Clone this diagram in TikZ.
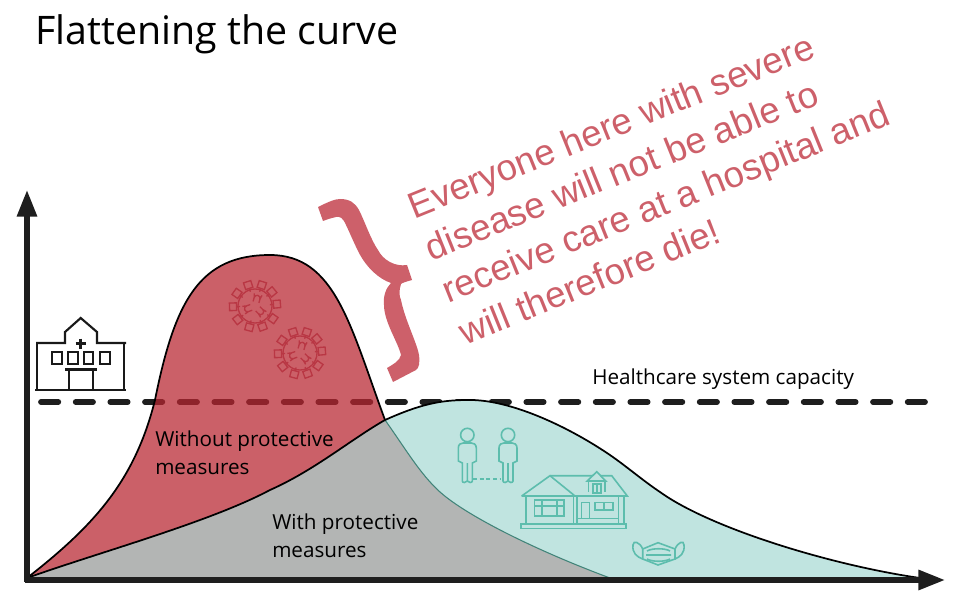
\documentclass[tikz,border=0pt]{standalone}
\usepackage{fontspec}
\setmainfont{Open Sans}
\newfontfamily\notefont{Liberation Sans}
\usetikzlibrary{arrows.meta}
\definecolor{redfill}{RGB}{184,37,48}
\definecolor{rednote}{RGB}{205,96,106}
\definecolor{virusred}{RGB}{185,55,68}
\definecolor{tealfill}{RGB}{192,228,224}
\definecolor{tealline}{RGB}{93,189,173}
\definecolor{grayfill}{RGB}{179,181,180}
\definecolor{axisblack}{RGB}{30,30,30}
\tikzset{
  axis/.style={line width=3.9pt,draw=axisblack,-{Triangle[length=20pt,width=14.5pt]}},
  label/.style={font=\fontsize{15.5}{20.3}\selectfont,align=left,text=black},
  outline/.style={line width=1.3pt,draw=black},
  icon/.style={line width=1.6pt,draw=black!90},
  tealicon/.style={line width=1.2pt,draw=tealline},
  pics/virus/.style={code={
    \draw[line width=1pt,draw=virusred] (0,0) circle (17);
    \foreach \a in {5,40,72,108,145,182,218,255,290,325}{
      \draw[line width=1pt,draw=virusred,rotate=\a] (15,0) -- (18.5,0) (18.5,-3.8) rectangle (25.5,3.8);
    }
    \foreach \a in {75,200,315}{
      \draw[line width=1pt,draw=virusred,rotate=\a] (4,-3) -- (8,-3) arc (-90:90:3) -- (4,3) (8,3) -- (12,4) (8,-3) -- (12,-4);
    }
  }}
}
\begin{document}
\begin{tikzpicture}[x=0.75pt,y=-0.75pt]
  \useasboundingbox (0,0) rectangle (970,598);
  % Curves
  \coordinate (origin) at (27,578);
  \coordinate (cross) at (385,420);
  \coordinate (ytip) at (27,190);
  \coordinate (xtip) at (945,580);
  \coordinate (capleft) at (41,402);
  \coordinate (capright) at (930,402);
  % Capacity line goes under the red area
  \draw[line width=4.3pt,draw=axisblack,line cap=round,dash pattern=on 13pt off 13pt] (capleft) -- (capright);
  \fill[tealfill] (cross) .. controls (425,402) and (445,400) .. (470,400)
    .. controls (510,400) and (565,425) .. (607,453)
    .. controls (625,465) and (642,480) .. (660,492)
    .. controls (710,528) and (830,565) .. (920,578) -- (610,578)
    .. controls (540,552) and (468,517) .. (440,492)
    .. controls (420,474) and (405,448) .. (cross) -- cycle;
  \fill[grayfill] (origin) .. controls (100,552) and (210,522) .. (270,490)
    .. controls (315,470) and (350,440) .. (cross)
    .. controls (405,448) and (420,474) .. (440,492)
    .. controls (468,517) and (540,552) .. (610,578) -- cycle;
  \fill[redfill,fill opacity=0.73] (origin) .. controls (95,525) and (135,480) .. (155,400)
    .. controls (175,300) and (200,255) .. (270,255)
    .. controls (335,255) and (350,325) .. (cross)
    .. controls (350,440) and (315,470) .. (270,490)
    .. controls (210,522) and (100,552) .. (origin) -- cycle;
  \draw[line width=0.8pt,draw=tealline!70!black] (cross) .. controls (405,448) and (420,474) .. (440,492)
    .. controls (468,517) and (540,552) .. (610,578);
  \draw[outline] (origin) .. controls (95,525) and (135,480) .. (155,400)
    .. controls (175,300) and (200,255) .. (270,255)
    .. controls (335,255) and (350,325) .. (cross);
  \draw[outline] (origin) .. controls (100,552) and (210,522) .. (270,490)
    .. controls (315,470) and (350,440) .. (cross)
    .. controls (425,402) and (445,400) .. (470,400)
    .. controls (510,400) and (565,425) .. (607,453)
    .. controls (625,465) and (642,480) .. (660,492)
    .. controls (710,528) and (830,565) .. (920,578);
  % Axes
  \draw[axis] (27,582) -- (ytip);
  \draw[axis] (25,580) -- (xtip);
  % Viruses
  \pic at (255,306) {virus};
  \pic at (300,353) {virus};
  % Hospital
  \draw[icon] (37.3,343) -- (37.3,390) -- (124,390) -- (124,343);
  \draw[icon] (36,343) -- (65,343) -- (65,332) -- (80.7,318) -- (97,332) -- (97,343) -- (126,343);
  \draw[icon] (35,390) -- (126,390);
  \foreach \wx in {52.3,68.3,84,100.3}{
    \draw[icon] (\wx,352.3) rectangle ++(9.4,11.7);
  }
  \draw[icon,line width=2.2pt] (65,369.3) -- (97,369.3);
  \draw[icon] (69,369.3) -- (69,390) (92.7,369.3) -- (92.7,390);
  \draw[icon,line width=2.4pt] (75.7,343.7) -- (85.7,343.7) (80.7,338.7) -- (80.7,348.7);
  % People
  \foreach \px in {467.3,508}{
    \begin{scope}[shift={(\px,0)}]
      \draw[tealicon] (0,435) circle (6.7);
      \draw[tealicon] (-5,481) -- (-5,463) -- (-9,461) -- (-9,448) .. controls (-9,444) and (-6,443) .. (-4,443)
        -- (4,443) .. controls (6,443) and (9,444) .. (9,448) -- (9,461) -- (5,463) -- (5,481)
        .. controls (5,483) and (1,483) .. (0,481) -- (0,463) -- (0,481)
        .. controls (-1,483) and (-5,483) .. (-5,481) -- cycle;
    \end{scope}
  }
  \draw[tealicon,dash pattern=on 3pt off 2pt] (473,479) -- (501,479);
  % House
  \draw[tealicon] (520.7,524) rectangle (626,528.3);
  \draw[tealicon] (521.7,496) -- (550,475.7) -- (575,496);
  \draw[tealicon] (550,475.7) -- (611.7,475.7) -- (627.3,496) -- (521.7,496);
  \draw[tealicon] (526,496) -- (526,524) (573.3,496) -- (573.3,524) (576.7,496) -- (576.7,524)
    (618.3,496) -- (618.3,524) (624,496) -- (624,524);
  \draw[tealicon] (534.3,500) rectangle (564,516) (541.7,500) -- (541.7,516) (556.7,500) -- (556.7,516) (534.3,506) -- (564,506);
  \draw[tealicon] (581.3,518) -- (581.3,502.3) -- (589.3,502.3) -- (589.3,518);
  \draw[tealicon] (595,502.3) rectangle (612.7,510) (604,502.3) -- (604,510);
  \draw[tealicon] (576.7,518.3) -- (618.3,518.3);
  \draw[tealicon,fill=tealfill] (587.3,481) -- (596.7,471.7) -- (605.7,481) -- cycle;
  \draw[tealicon] (588.3,481) -- (588.3,491.7) (605,481) -- (605,491.7);
  \draw[tealicon] (592.7,484) rectangle (601,492.7) (596.8,484) -- (596.8,492.7);
  % Mask
  \draw[tealicon] (642.7,549) -- (658,542.7) -- (675,549) -- (675,559) -- (658,565) -- (642.7,559) -- cycle;
  \draw[tealicon] (647,551) .. controls (652,548) and (665,548) .. (670,551)
    (646,555) -- (671,555) (647,559) .. controls (652,562) and (665,562) .. (670,559);
  \draw[tealicon] (642.7,549) .. controls (640,542) and (633,540) .. (633,545) .. controls (632,553) and (637,557) .. (642.7,559);
  \draw[tealicon] (675,549) .. controls (678,542) and (684,540) .. (684,545) .. controls (685,553) and (680,557) .. (675,559);
  % Brace
  \fill[rednote] (318,207) .. controls (328,202) and (335,199) .. (340,199)
    .. controls (350,199) and (355,203) .. (359,210)
    .. controls (365,222) and (371,240) .. (378,250)
    .. controls (383,260) and (395,267) .. (407,265) -- (412,280)
    .. controls (405,282) and (402,283) .. (401,284)
    .. controls (399,290) and (399,296) .. (401,300)
    .. controls (405,320) and (417,343) .. (419,355)
    .. controls (420,363) and (419,368) .. (416,370) -- (393,382) -- (387,368)
    .. controls (392,365) and (400,361) .. (401,355)
    .. controls (398,342) and (384,322) .. (384,305)
    .. controls (383,296) and (386,288) .. (391,283)
    .. controls (379,279) and (367,268) .. (359,253)
    .. controls (353,241) and (349,231) .. (346,225)
    .. controls (343,218) and (340,216) .. (336,217)
    .. controls (332,218) and (328,219) .. (323,221) -- cycle;
  % Labels
  \node[anchor=base west,inner sep=0,font=\fontsize{29.5}{36}\selectfont] (title) at (35,45) {Flattening the curve};
  \node[label,anchor=base west,inner sep=0] (capacity) at (592,384) {Healthcare system capacity};
  \node[label,anchor=north west,inner sep=0] (without) at (155,431) {Without protective\\measures};
  \node[label,anchor=north west,inner sep=0] (with) at (272,514) {With protective\\measures};
  \node[anchor=west,inner sep=0,rotate=22,align=left,text=rednote,font=\notefont\fontsize{27.5}{34}\selectfont] (note) at (435,270)
    {Everyone here with severe\\disease will not be able to\\receive care at a hospital and\\will therefore die!};
\end{tikzpicture}
\end{document}
